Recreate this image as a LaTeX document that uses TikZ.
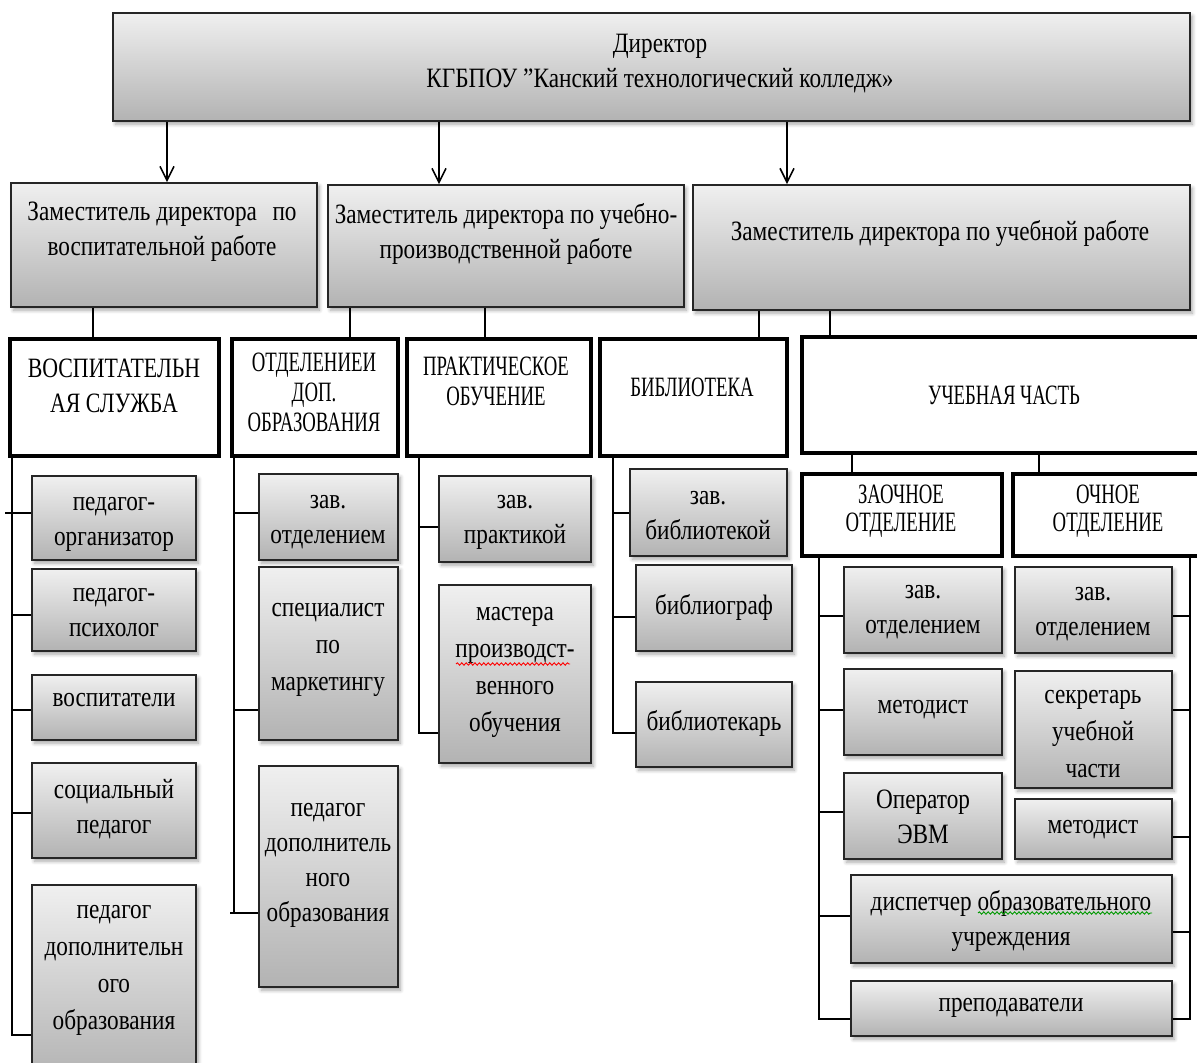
\documentclass[tikz,border=0pt]{standalone}
\usepackage{fontspec}
\setmainfont{Liberation Serif}[FakeStretch=0.83]
\newfontfamily\capsfont{Liberation Serif}[FakeStretch=0.67]
\newfontfamily\capsAfont{Liberation Serif}[FakeStretch=0.78]
\usetikzlibrary{arrows.meta,fit,shadows.blur,decorations.pathmorphing}
\tikzset{
  gbox/.style={draw=black!85, line width=0.9pt, top color=black!6, bottom color=black!30, inner sep=0pt,
    blur shadow={shadow xshift=1.2pt, shadow yshift=-1.6pt, shadow blur steps=6, shadow opacity=35}},
  wbox/.style={draw=black, line width=1.6pt, fill=white, inner sep=0pt},
  txt/.style={align=center, inner sep=0pt, font=\fontsize{14}{17.5}\selectfont},
  txtL/.style={align=center, inner sep=0pt, font=\fontsize{14}{18.5}\selectfont},
  capsA/.style={align=center, inner sep=0pt, font=\capsAfont\fontsize{14}{17.5}\selectfont},
  capsB/.style={align=center, inner sep=0pt, font=\capsfont\fontsize{14}{15}\selectfont},
  capsC/.style={align=center, inner sep=0pt, font=\capsfont\fontsize{14}{14}\selectfont},
  ln/.style={line width=0.8pt, black},
  arr/.style={line width=0.8pt, black, -{Straight Barb[length=7pt,width=7pt,line width=0.8pt]}},
  wavy/.style={line width=0.45pt, decorate, decoration={snake, amplitude=0.6pt, segment length=2.2pt}}
}
\newcommand\mkbox[9]{%
  \node[#1, fit={(#3,#4) (#5,#6)}] (#2) {};
  \node[#8] (#2-t) at (#7) {#9};
}
\begin{document}
\begin{tikzpicture}[x=0.5pt,y=-0.5pt]
\useasboundingbox (0,0) rectangle (1197,1063);
\clip (0,0) rectangle (1197,1063);

% Director
\mkbox{gbox}{dir}{113}{13}{1190}{121}{660,64}{txt}{Директор\\КГБПОУ {\char34}Канский технологический колледж»}

% Deputies
\mkbox{gbox}{dep1}{11}{183}{317}{307}{162,232}{txt}{Заместитель директора\hspace{0.35em} по\\воспитательной работе}
\mkbox{gbox}{dep2}{328}{185}{684}{307}{506,234}{txt}{Заместитель директора по учебно-\\производственной работе}
\mkbox{gbox}{dep3}{693}{185}{1190}{310}{940,234}{txt}{Заместитель директора по учебной работе}

% Level 2
\mkbox{wbox}{vs}{10}{339}{219}{456}{114,386}{capsA}{ВОСПИТАТЕЛЬН\\АЯ СЛУЖБА}
\mkbox{wbox}{dop}{232}{339}{398}{456}{314,392}{capsB}{ОТДЕЛЕНИЕИ\\ДОП.\\ОБРАЗОВАНИЯ}
\mkbox{wbox}{pr}{407}{339}{591}{456}{496,381}{capsB}{ПРАКТИЧЕСКОЕ\\ОБУЧЕНИЕ}
\mkbox{wbox}{bib}{600}{339}{787}{456}{692,387}{capsB}{БИБЛИОТЕКА}
\mkbox{wbox}{uch}{802}{337}{1215}{453}{1004,395}{capsB}{УЧЕБНАЯ ЧАСТЬ}
\mkbox{wbox}{zo}{802}{474}{1002}{556}{901,511}{capsC}{ЗАОЧНОЕ\\ОТДЕЛЕНИЕ}
\mkbox{wbox}{och}{1013}{474}{1215}{556}{1108,511}{capsC}{ОЧНОЕ\\ОТДЕЛЕНИЕ}

% Column 1
\mkbox{gbox}{a1}{32}{476}{196}{560}{114,524}{txt}{педагог-\\организатор}
\mkbox{gbox}{a2}{32}{569}{196}{651}{114,613}{txt}{педагог-\\психолог}
\mkbox{gbox}{a3}{32}{675}{196}{740}{114,700}{txt}{воспитатели}
\mkbox{gbox}{a4}{32}{763}{196}{858}{114,809}{txt}{социальный\\педагог}
\mkbox{gbox}{a5}{32}{885}{196}{1080}{114,970}{txtL}{педагог\\дополнительн\\ого\\образования}

% Column 2
\mkbox{gbox}{b1}{259}{474}{398}{560}{328,522}{txt}{зав.\\отделением}
\mkbox{gbox}{b2}{259}{567}{398}{740}{328,650}{txtL}{специалист\\по\\маркетингу}
\mkbox{gbox}{b3}{259}{766}{398}{987}{328,865}{txt}{педагог\\дополнитель\\ного\\образования}

% Column 3
\mkbox{gbox}{c1}{439}{476}{591}{562}{515,522}{txt}{зав.\\практикой}
\mkbox{gbox}{c2}{439}{585}{591}{763}{515,672}{txtL}{мастера\\производст-\\венного\\обучения}

% Column 4
\mkbox{gbox}{d1}{630}{469}{787}{556}{708,516}{txt}{зав.\\библиотекой}
\mkbox{gbox}{d2}{636}{565}{792}{651}{714,607}{txt}{библиограф}
\mkbox{gbox}{d3}{636}{682}{792}{767}{714,723}{txt}{библиотекарь}

% Column 5
\mkbox{gbox}{e1}{844}{567}{1002}{653}{923,612}{txt}{зав.\\отделением}
\mkbox{gbox}{e2}{844}{669}{1002}{755}{923,710}{txt}{методист}
\mkbox{gbox}{e3}{844}{773}{1002}{859}{923,817}{txt}{Оператор\\ЭВМ}
\mkbox{gbox}{e4}{851}{875}{1172}{963}{1011,921}{txt}{диспетчер образовательного\\учреждения}
\mkbox{gbox}{e5}{851}{981}{1172}{1036}{1011,1008}{txt}{преподаватели}

% Column 6
\mkbox{gbox}{f1}{1015}{567}{1172}{653}{1093,614}{txt}{зав.\\отделением}
\mkbox{gbox}{f2}{1015}{671}{1172}{788}{1093,734}{txtL}{секретарь\\учебной\\части}
\mkbox{gbox}{f3}{1015}{799}{1172}{859}{1093,830}{txt}{методист}

% spell-check underlines
\draw[wavy, red] (456,664) -- (570,664);
\draw[wavy, green!60!black] (978,913) -- (1152,913);

% Director arrows
\draw[arr] (dir.south -| 167,0) -- (dep1.north -| 167,0);
\draw[arr] (dir.south -| 439,0) -- (dep2.north -| 439,0);
\draw[arr] (dir.south -| 787,0) -- (dep3.north -| 787,0);

% Deputies to departments
\draw[ln] (dep1.south -| 93,0) -- (vs.north -| 93,0);
\draw[ln] (dep2.south -| 350,0) -- (dop.north -| 350,0);
\draw[ln] (dep2.south -| 485,0) -- (pr.north -| 485,0);
\draw[ln] (dep3.south -| 759,0) -- (bib.north -| 759,0);
\draw[ln] (dep3.south -| 830,0) -- (uch.north -| 830,0);
\draw[ln] (uch.south -| 852,0) -- (zo.north -| 852,0);
\draw[ln] (uch.south -| 1039,0) -- (och.north -| 1039,0);

% Column 1 spine
\coordinate (stub1) at (5,513);
\draw[ln] (stub1) -- (a1.west |- stub1);
\draw[ln] (vs.south -| 12,0) |- (a1.west |- 0,513);
\draw[ln] (vs.south -| 12,0) |- (a2.west |- 0,615);
\draw[ln] (vs.south -| 12,0) |- (a3.west |- 0,710);
\draw[ln] (vs.south -| 12,0) |- (a4.west |- 0,813);
\draw[ln] (vs.south -| 12,0) |- (a5.west |- 0,1035);

% Column 2 spine
\coordinate (stub2) at (230,913);
\draw[ln] (stub2) -- (b3.west |- stub2);
\draw[ln] (dop.south -| 234,0) |- (b1.west |- 0,513);
\draw[ln] (dop.south -| 234,0) |- (b2.west |- 0,710);
\draw[ln] (dop.south -| 234,0) |- (b3.west |- 0,913);

% Column 3 spine
\draw[ln] (pr.south -| 419,0) |- (c1.west |- 0,527);
\draw[ln] (pr.south -| 419,0) |- (c2.west |- 0,733);

% Column 4 spine
\draw[ln] (bib.south -| 613,0) |- (d1.west |- 0,513);
\draw[ln] (bib.south -| 613,0) |- (d2.west |- 0,617);
\draw[ln] (bib.south -| 613,0) |- (d3.west |- 0,733);

% Column 5 spine
\draw[ln] (zo.south -| 819,0) |- (e1.west |- 0,616);
\draw[ln] (zo.south -| 819,0) |- (e2.west |- 0,710);
\draw[ln] (zo.south -| 819,0) |- (e3.west |- 0,812);
\draw[ln] (zo.south -| 819,0) |- (e4.west |- 0,916);
\draw[ln] (zo.south -| 819,0) |- (e5.west |- 0,1019);

% Column 6 spine (right side)
\draw[ln] (och.south -| 1190,0) |- (f1.east |- 0,616);
\draw[ln] (och.south -| 1190,0) |- (f2.east |- 0,710);
\draw[ln] (och.south -| 1190,0) |- (f3.east |- 0,837);
\draw[ln] (och.south -| 1190,0) |- (e4.east |- 0,932);
\draw[ln] (och.south -| 1190,0) |- (e5.east |- 0,1019);
\end{tikzpicture}
\end{document}
